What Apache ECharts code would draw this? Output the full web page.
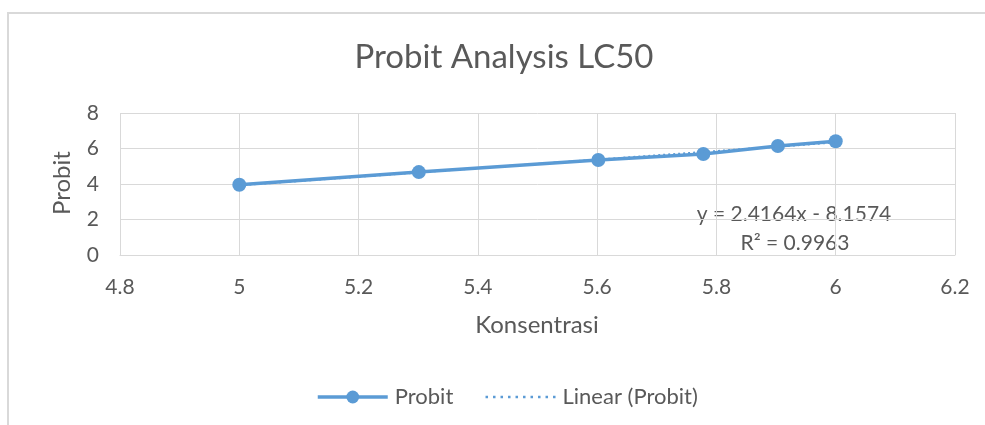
<!DOCTYPE html>
<html>
<head>
<meta charset="utf-8">
<script src="https://cdn.jsdelivr.net/npm/echarts@6/dist/echarts.min.js"></script>
<style>
html,body{margin:0;padding:0;background:#fff;}
#c{width:985px;height:425px;}
</style>
</head>
<body>
<div id="c"></div>
<script>
// Data
var konsentrasi = [5, 5.301, 5.602, 5.778, 5.903, 6];
var probit = [3.96, 4.67, 5.35, 5.69, 6.14, 6.41];
var trendX = [5, 6];
var trendY = [3.925, 6.341];
var xTicks = [4.8, 5, 5.2, 5.4, 5.6, 5.8, 6, 6.2];
var yTicks = [0, 2, 4, 6, 8];

var FONT = 'Lato';
var GREY = '#595959';
var BLUE = '#5b9bd5';

var probitData = konsentrasi.map(function (x, i) { return [x, probit[i]]; });
var trendData = trendX.map(function (x, i) { return [x, trendY[i]]; });

var chart = echarts.init(document.getElementById('c'), null, {renderer: 'canvas'});
chart.setOption({
  animation: false,
  backgroundColor: '#fff',
  textStyle: {fontFamily: FONT},
  title: {
    text: 'Probit Analysis LC50',
    left: 499,
    textAlign: 'center',
    top: 36,
    textStyle: {fontFamily: FONT, fontSize: 33, fontWeight: 'normal', color: GREY}
  },
  grid: {left: 120, right: 30, top: 113, bottom: 170, containLabel: false},
  xAxis: {
    type: 'value',
    min: xTicks[0],
    max: xTicks[xTicks.length - 1],
    interval: 0.2,
    axisLine: {show: true, lineStyle: {color: '#d9d9d9', width: 1}},
    axisTick: {show: false},
    splitLine: {show: true, lineStyle: {color: '#d9d9d9', width: 1}},
    axisLabel: {
      color: GREY, fontSize: 21, fontFamily: FONT, margin: 22,
      formatter: function (v) { return String(Math.round(v * 10) / 10); }
    }
  },
  yAxis: {
    type: 'value',
    min: yTicks[0],
    max: yTicks[yTicks.length - 1],
    interval: 2,
    axisLine: {show: false},
    axisTick: {show: false},
    splitLine: {show: true, lineStyle: {color: '#d9d9d9', width: 1}},
    axisLabel: {color: GREY, fontSize: 21, fontFamily: FONT, margin: 21}
  },
  legend: {
    bottom: 12,
    left: 311,
    itemWidth: 70,
    itemHeight: 16,
    itemGap: 31,
    textStyle: {color: GREY, fontSize: 22, fontFamily: FONT, padding: [0, 0, 0, 2]},
    data: [
      {name: 'Probit', lineStyle: {width: 3.5}},
      {name: 'Linear (Probit)', itemStyle: {opacity: 0}, lineStyle: {width: 2.5, type: [2.5, 5]}}
    ]
  },
  series: [
    {
      name: 'Probit',
      type: 'line',
      data: probitData,
      symbol: 'circle',
      symbolSize: 14,
      itemStyle: {color: BLUE},
      lineStyle: {color: BLUE, width: 3.5},
      z: 2
    },
    {
      name: 'Linear (Probit)',
      type: 'line',
      data: trendData,
      symbol: 'none',
      showSymbol: false,
      itemStyle: {color: BLUE},
      lineStyle: {color: BLUE, width: 2, type: [2, 3]},
      z: 3
    }
  ],
  graphic: [
    {
      type: 'rect',
      shape: {x: 8, y: 13, width: 1000, height: 430},
      style: {fill: 'none', stroke: '#d9d9d9', lineWidth: 2},
      silent: true
    },
    {
      type: 'text',
      x: 62, y: 183,
      rotation: Math.PI / 2,
      style: {text: 'Probit', font: '24px Lato', fill: GREY, align: 'center', verticalAlign: 'middle'}
    },
    {
      type: 'text',
      x: 537, y: 325,
      style: {text: 'Konsentrasi', font: '24px Lato', fill: GREY, align: 'center', verticalAlign: 'middle'}
    },
    {
      type: 'text',
      x: 794, y: 214,
      style: {text: 'y = 2.4164x - 8.1574', font: '21px Lato', fill: GREY, align: 'center', verticalAlign: 'middle'}
    },
    {
      type: 'text',
      x: 795, y: 243,
      style: {text: 'R² = 0.9963', font: '21px Lato', fill: GREY, align: 'center', verticalAlign: 'middle'}
    }
  ]
});
</script>
</body>
</html>
